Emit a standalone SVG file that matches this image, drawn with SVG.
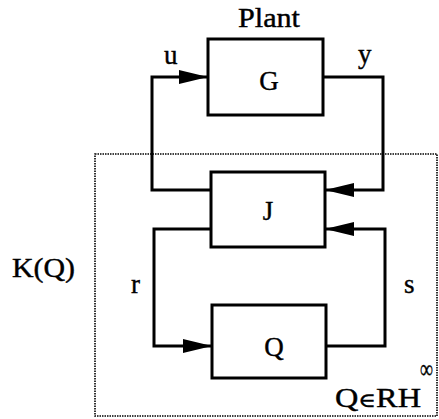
<svg xmlns="http://www.w3.org/2000/svg" width="439" height="419" viewBox="0 0 439 419">
<style>
.box{fill:#fff;stroke:#000;stroke-width:3}
.wire{fill:none;stroke:#000;stroke-width:3}
.frame{fill:none;stroke:#000;stroke-width:1.6;stroke-dasharray:1.5 1}
.t{font-size:27px;fill:#000;stroke:#000;stroke-width:0.4}
</style>
<defs>
<marker id="ah" markerUnits="userSpaceOnUse" markerWidth="30" markerHeight="16" refX="29" refY="8" orient="auto">
<path d="M0,1 L29,8 L0,15 Z" fill="#000"/>
</marker>
</defs>
<rect class="frame" x="95" y="154" width="342" height="262"/>
<g id="connectors">
<path class="wire" d="M211,190 H152 V77 H208" marker-end="url(#ah)"/>
<path class="wire" d="M323,77 H383 V190 H325" marker-end="url(#ah)"/>
<path class="wire" d="M211,229 H154 V346 H212" marker-end="url(#ah)"/>
<path class="wire" d="M326,346 H385 V229 H325" marker-end="url(#ah)"/>
</g>
<g font-family="Liberation Serif, DejaVu Serif, serif">
<g id="G">
<rect class="box" x="208" y="39" width="115" height="76"/>
<text class="t" x="269" y="90" text-anchor="middle">G</text>
</g>
<g id="J">
<rect class="box" x="211" y="172" width="114" height="75"/>
<text class="t" x="268" y="220" text-anchor="middle">J</text>
</g>
<g id="Q">
<rect class="box" x="212" y="305" width="114" height="73"/>
<text class="t" x="274" y="356" text-anchor="middle">Q</text>
</g>
<g id="labels">
<text class="t" x="238" y="27" textLength="62" lengthAdjust="spacingAndGlyphs">Plant</text>
<text class="t" x="164" y="64">u</text>
<text class="t" x="358" y="63">y</text>
<text class="t" x="131" y="293">r</text>
<text class="t" x="404" y="293">s</text>
<text class="t" x="12" y="277" textLength="63" lengthAdjust="spacingAndGlyphs">K(Q)</text>
<text class="t" x="335" y="407" textLength="86" lengthAdjust="spacingAndGlyphs">Q<tspan font-size="20">∈</tspan>RH</text>
<text class="t" x="420" y="378" font-size="14" textLength="13" lengthAdjust="spacingAndGlyphs">∞</text>
</g>
</g>
</svg>
